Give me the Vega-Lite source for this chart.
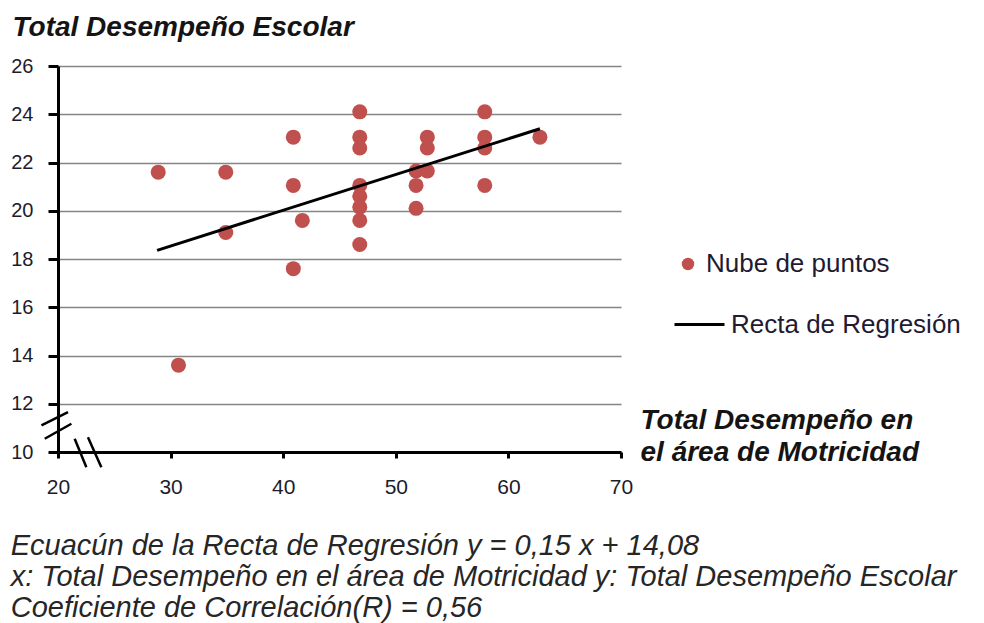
{
  "$schema": "https://vega.github.io/schema/vega-lite/v6.json",
  "width": 563,
  "height": 386,
  "autosize": {"type": "none"},
  "padding": {"left": 58, "top": 66, "right": 363, "bottom": 171},
  "background": "white",
  "config": {"view": {"stroke": null}, "font": "Liberation Sans"},
  "title": {
    "text": ["Ecuacún de la Recta de Regresión y = 0,15 x + 14,08", "x: Total Desempeño en el área de Motricidad  y: Total Desempeño Escolar", "Coeficiente de Correlación(R) = 0,56"],
    "orient": "bottom",
    "anchor": "start",
    "frame": "bounds",
    "font": "Liberation Sans",
    "fontSize": 29,
    "fontStyle": "italic",
    "fontWeight": "normal",
    "color": "#262626",
    "lineHeight": 31,
    "baseline": "alphabetic",
    "offset": 58
  },
  "datasets": {
    "puntos": [
      {"x": 28.9, "y": 21.6, "serie": "Nube de puntos"},
      {"x": 30.7, "y": 13.6, "serie": "Nube de puntos"},
      {"x": 34.9, "y": 21.6, "serie": "Nube de puntos"},
      {"x": 34.9, "y": 19.1, "serie": "Nube de puntos"},
      {"x": 40.9, "y": 23.05, "serie": "Nube de puntos"},
      {"x": 40.9, "y": 21.05, "serie": "Nube de puntos"},
      {"x": 40.9, "y": 17.6, "serie": "Nube de puntos"},
      {"x": 41.7, "y": 19.6, "serie": "Nube de puntos"},
      {"x": 46.8, "y": 24.1, "serie": "Nube de puntos"},
      {"x": 46.8, "y": 23.05, "serie": "Nube de puntos"},
      {"x": 46.8, "y": 22.6, "serie": "Nube de puntos"},
      {"x": 46.8, "y": 21.05, "serie": "Nube de puntos"},
      {"x": 46.8, "y": 20.6, "serie": "Nube de puntos"},
      {"x": 46.8, "y": 20.15, "serie": "Nube de puntos"},
      {"x": 46.8, "y": 19.6, "serie": "Nube de puntos"},
      {"x": 46.8, "y": 18.6, "serie": "Nube de puntos"},
      {"x": 51.8, "y": 21.65, "serie": "Nube de puntos"},
      {"x": 51.8, "y": 21.05, "serie": "Nube de puntos"},
      {"x": 51.8, "y": 20.1, "serie": "Nube de puntos"},
      {"x": 52.8, "y": 23.05, "serie": "Nube de puntos"},
      {"x": 52.8, "y": 22.6, "serie": "Nube de puntos"},
      {"x": 52.8, "y": 21.65, "serie": "Nube de puntos"},
      {"x": 57.9, "y": 24.1, "serie": "Nube de puntos"},
      {"x": 57.9, "y": 23.05, "serie": "Nube de puntos"},
      {"x": 57.9, "y": 22.6, "serie": "Nube de puntos"},
      {"x": 57.9, "y": 21.05, "serie": "Nube de puntos"},
      {"x": 62.8, "y": 23.05, "serie": "Nube de puntos"}
    ],
    "recta": [
      {"x": 28.8, "y": 18.36, "serie": "Recta de Regresión"},
      {"x": 62.8, "y": 23.4, "serie": "Recta de Regresión"}
    ],
    "cortes": [
      {"x": 18.53, "y": 11.1, "x2": 20.89, "y2": 11.65},
      {"x": 18.82, "y": 10.55, "x2": 21.19, "y2": 11.17},
      {"x": 21.48, "y": 10.55, "x2": 22.52, "y2": 9.37},
      {"x": 22.66, "y": 10.61, "x2": 23.85, "y2": 9.37}
    ]
  },
  "encoding": {
    "x": {
      "field": "x",
      "type": "quantitative",
      "scale": {"domain": [20, 70], "nice": false, "zero": false},
      "axis": {
        "title": ["Total Desempeño en", "el área de Motricidad"],
        "titleX": 582,
        "titleY": -24,
        "titleAlign": "left",
        "titleAnchor": "start",
        "titleBaseline": "alphabetic",
        "titleLineHeight": 32,
        "titleFont": "Liberation Sans",
        "titleFontSize": 28,
        "titleFontStyle": "italic",
        "titleFontWeight": "bold",
        "titleColor": "#141414",
        "values": [20, 30, 40, 50, 60, 70],
        "grid": false,
        "domainColor": "black",
        "domainWidth": 3,
        "tickColor": "black",
        "tickWidth": 3,
        "tickSize": 6,
        "labelFont": "Liberation Sans",
        "labelFontSize": 21,
        "labelPadding": 18,
        "labelFlush": false,
        "labelColor": "#1c1c2c"
      }
    },
    "y": {
      "field": "y",
      "type": "quantitative",
      "scale": {"domain": [10, 26], "nice": false, "zero": false},
      "axis": {
        "title": "Total Desempeño Escolar",
        "titleAngle": 0,
        "titleAlign": "left",
        "titleAnchor": "start",
        "titleBaseline": "alphabetic",
        "titleX": -46,
        "titleY": -31,
        "titleFont": "Liberation Sans",
        "titleFontSize": 28,
        "titleFontStyle": "italic",
        "titleFontWeight": "bold",
        "titleColor": "#141414",
        "values": [10, 12, 14, 16, 18, 20, 22, 24, 26],
        "grid": true,
        "gridColor": "#858585",
        "gridWidth": 1.5,
        "domainColor": "black",
        "domainWidth": 3,
        "tickColor": "black",
        "tickWidth": 3,
        "tickSize": 10,
        "labelFont": "Liberation Sans",
        "labelFontSize": 20,
        "labelPadding": 15,
        "labelColor": "#1c1c2c"
      }
    }
  },
  "layer": [
    {
      "data": {"name": "puntos"},
      "mark": {"type": "point", "filled": true, "opacity": 1, "size": 225, "shape": "circle"},
      "encoding": {
        "color": {
          "field": "serie",
          "type": "nominal",
          "scale": {"domain": ["Nube de puntos"], "range": ["#c0504d"]},
          "legend": {
            "title": null,
            "orient": "none",
            "legendX": 617,
            "legendY": 185,
            "padding": 0,
            "symbolType": "circle",
            "symbolSize": 154,
            "symbolOpacity": 1,
            "labelOffset": 5,
            "labelLimit": 0,
            "labelFont": "Liberation Sans",
            "labelFontSize": 26,
            "labelColor": "#221a33"
          }
        }
      }
    },
    {
      "data": {"name": "recta"},
      "mark": {"type": "line", "strokeWidth": 3},
      "encoding": {
        "stroke": {
          "field": "serie",
          "type": "nominal",
          "scale": {"domain": ["Recta de Regresión"], "range": ["#000000"]},
          "legend": {
            "title": null,
            "orient": "none",
            "legendX": 615,
            "legendY": 232,
            "padding": 0,
            "symbolType": "stroke",
            "symbolSize": 2500,
            "symbolStrokeWidth": 3,
            "labelOffset": 5,
            "labelLimit": 0,
            "labelFont": "Liberation Sans",
            "labelFontSize": 26,
            "labelColor": "#221a33"
          }
        }
      }
    },
    {
      "data": {"name": "cortes"},
      "mark": {"type": "rule", "strokeWidth": 2.5, "color": "black"},
      "encoding": {
        "x2": {"field": "x2"},
        "y2": {"field": "y2"}
      }
    }
  ]
}
